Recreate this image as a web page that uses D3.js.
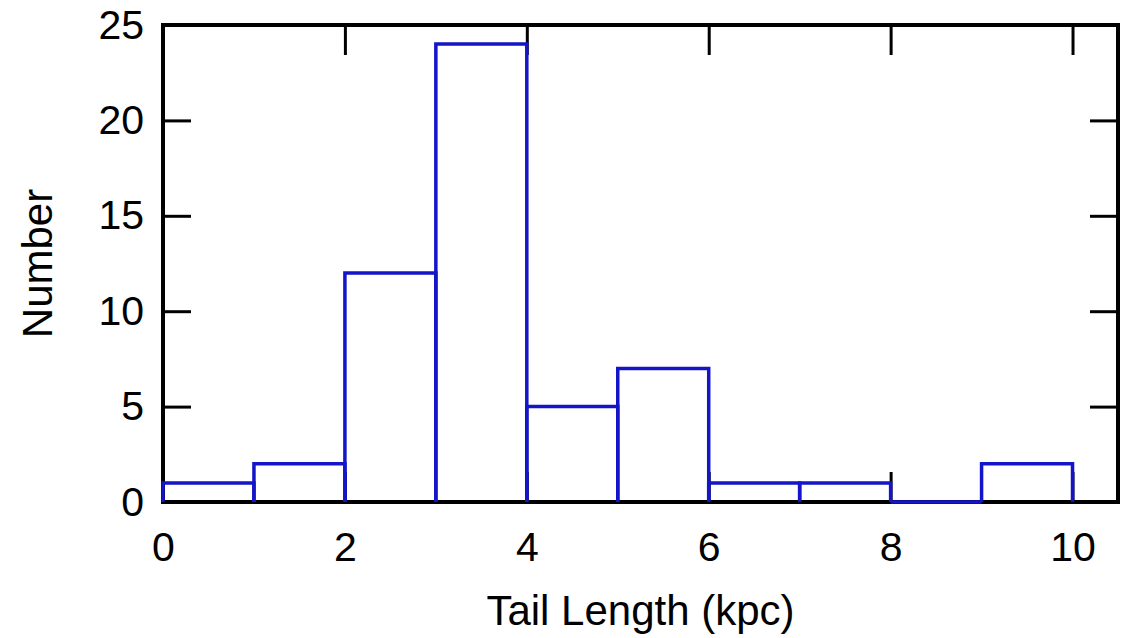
<!DOCTYPE html>
<html>
<head>
<meta charset="utf-8">
<script src="https://cdn.jsdelivr.net/npm/d3@7"></script>
<style>
  html, body { margin: 0; padding: 0; background: #fff; }
  svg { display: block; }
  text { font-family: "Liberation Sans", Arial, sans-serif; fill: #000; }
</style>
</head>
<body>
<svg id="chart" width="1126" height="638"></svg>
<script>
// ---- data ----
const binStarts = [0, 1, 2, 3, 4, 5, 6, 7, 8, 9];
const binEnds   = [1, 2, 3, 4, 5, 6, 7, 8, 9, 10];
const counts    = [1, 2, 12, 24, 5, 7, 1, 1, 0, 2];
const xTicks = [0, 2, 4, 6, 8, 10];
const yTicks = [0, 5, 10, 15, 20, 25];
const xLabel = "Tail Length (kpc)";
const yLabel = "Number";

// ---- layout ----
const mLeft = 163, mRight = 1118, mTop = 25, mBottom = 502;

const svg = d3.select("#chart");
const x = d3.scaleLinear().domain([0, 10.5]).range([mLeft, mRight]);
const y = d3.scaleLinear().domain([0, 25]).range([mBottom, mTop]);

// frame
svg.append("rect")
  .attr("x", mLeft).attr("y", mTop)
  .attr("width", mRight - mLeft).attr("height", mBottom - mTop)
  .attr("fill", "none").attr("stroke", "#000").attr("stroke-width", 4);

const fontSize = 41;
function styleAxis(g) {
  g.select(".domain").remove();
  g.selectAll(".tick line").attr("stroke", "#000").attr("stroke-width", 3);
  g.selectAll(".tick text").style("font-size", fontSize + "px")
    .style("font-family", '"Liberation Sans", Arial, sans-serif').attr("fill", "#000");
}

// bottom axis (ticks inward, labels)
svg.append("g").attr("transform", `translate(0,${mBottom})`)
  .call(d3.axisBottom(x).tickValues(xTicks).tickSize(-30).tickPadding(30).tickFormat(d3.format("d")))
  .call(styleAxis);
// top axis (ticks only)
svg.append("g").attr("transform", `translate(0,${mTop})`)
  .call(d3.axisTop(x).tickValues(xTicks).tickSize(-30).tickFormat(""))
  .call(styleAxis);
// left axis
svg.append("g").attr("transform", `translate(${mLeft},0)`)
  .call(d3.axisLeft(y).tickValues(yTicks).tickSize(-28).tickPadding(19).tickFormat(d3.format("d")))
  .call(styleAxis);
// right axis (ticks only)
svg.append("g").attr("transform", `translate(${mRight},0)`)
  .call(d3.axisRight(y).tickValues(yTicks).tickSize(-28).tickFormat(""))
  .call(styleAxis);

// histogram bars: open-bottom outlines, drawn over the ticks
const bins = counts.map((c, i) => ({ x0: binStarts[i], x1: binEnds[i], c }));
const line = d3.line().x(d => x(d[0])).y(d => y(d[1]));
svg.append("g").selectAll("path")
  .data(bins)
  .join("path")
  .attr("d", d => d.c === 0
    ? line([[d.x0, 0], [d.x1, 0]])
    : line([[d.x0, 0], [d.x0, d.c], [d.x1, d.c], [d.x1, 0]]))
  .attr("fill", "none")
  .attr("stroke", "#1414c8")
  .attr("stroke-width", 3.5)
  .attr("stroke-linejoin", "miter");

// axis titles
svg.append("text")
  .attr("x", (mLeft + mRight) / 2).attr("y", 625)
  .attr("text-anchor", "middle")
  .style("font-size", "42px")
  .text(xLabel);
svg.append("text")
  .attr("transform", `translate(52,${(mTop + mBottom) / 2}) rotate(-90)`)
  .attr("text-anchor", "middle")
  .style("font-size", "42px")
  .text(yLabel);
</script>
</body>
</html>
